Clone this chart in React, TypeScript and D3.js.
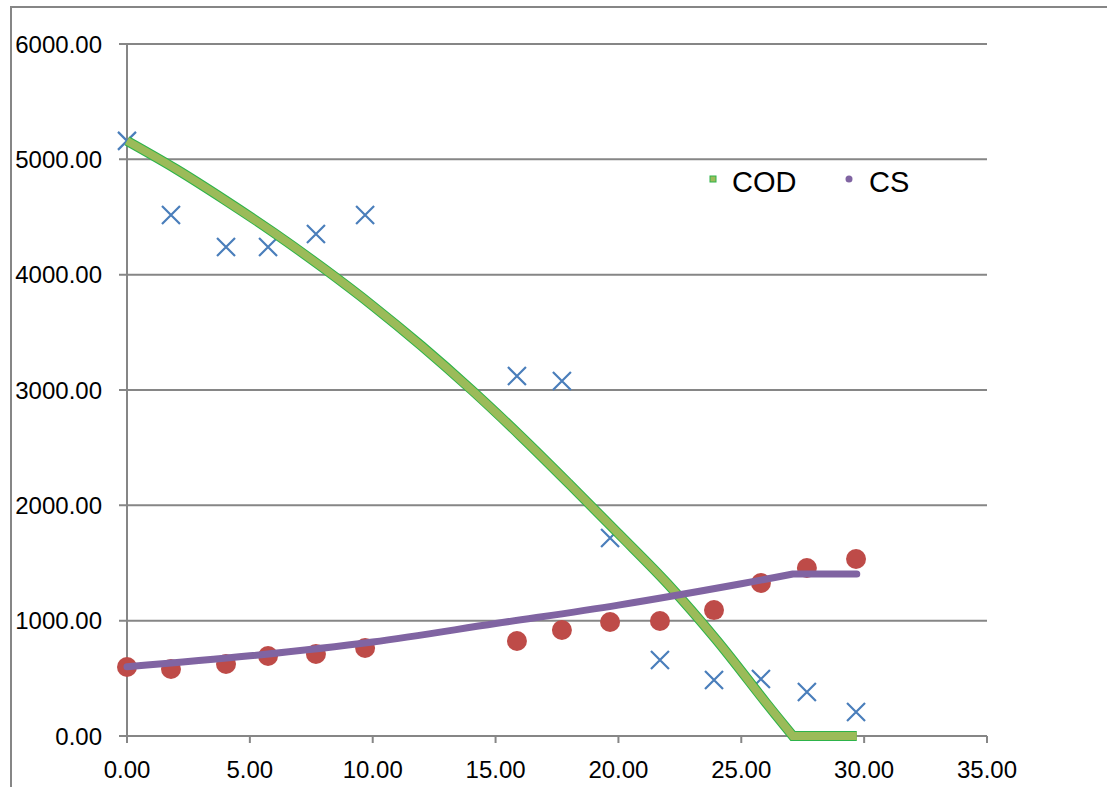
import React from "react";
import * as d3 from "d3";

const codObsX = [0, 1.79, 4.03, 5.74, 7.69, 9.69, 15.87, 17.7, 19.66, 21.69, 23.89, 25.8, 27.67, 29.67];
const codObsY = [5160, 4517, 4240, 4240, 4353, 4517, 3121, 3078, 1717, 659, 486, 494, 382, 208];
const csObsX = [0, 1.79, 4.03, 5.74, 7.69, 9.69, 15.87, 17.7, 19.66, 21.69, 23.89, 25.8, 27.67, 29.67];
const csObsY = [598, 581, 624, 694, 711, 763, 824, 919, 988, 997, 1092, 1327, 1457, 1535];

// fitted curve (declining part) then flat part
const codLineX = [0, 2, 4, 6, 8, 10, 12, 14, 16, 18, 20, 22, 24, 26, 27.1];
const codLineY = [5160, 4915, 4645, 4360, 4055, 3730, 3380, 3005, 2605, 2185, 1755, 1320, 830, 290, 0];
const codFlatX = [27.1, 29.7];
const codFlatY = [0, 0];
const csLineX = [0, 5, 10, 15, 20, 25, 27.1];
const csLineY = [600, 695, 815, 975, 1135, 1320, 1405];
const csFlatX = [27.1, 29.7];
const csFlatY = [1405, 1405];

const xTicks = [0, 5, 10, 15, 20, 25, 30, 35];
const yTicks = [0, 1000, 2000, 3000, 4000, 5000, 6000];
const legendNames = ["COD", "CS"];

export default function App() {
  const W = 1107, H = 787;
  const x = d3.scaleLinear().domain([0, 35]).range([127, 987]);
  const y = d3.scaleLinear().domain([0, 6000]).range([736, 44]);
  const grid = "#868686";
  const font = "'Liberation Sans', Arial, sans-serif";

  const pts = (xs: number[], ys: number[]): [number, number][] => xs.map((v, i) => [v, ys[i]]);
  const curveLine = d3
    .line<[number, number]>()
    .x((d) => x(d[0]))
    .y((d) => y(d[1]))
    .curve(d3.curveCatmullRom.alpha(0.5));
  const straight = d3
    .line<[number, number]>()
    .x((d) => x(d[0]))
    .y((d) => y(d[1]));

  const codD = (curveLine(pts(codLineX, codLineY)) || "") + (straight(pts(codFlatX, codFlatY)) || "").replace(/^M/, "L");
  const csD = (curveLine(pts(csLineX, csLineY)) || "") + (straight(pts(csFlatX, csFlatY)) || "").replace(/^M/, "L");

  return (
    <svg width={W} height={H} style={{ position: "absolute", left: 0, top: 0, background: "#fff" }}>
      <rect x={0} y={0} width={W} height={H} fill="#fff" />
      <path d={`M11,${H} L11,7 L${W},7`} fill="none" stroke={grid} strokeWidth={2} />
      {yTicks.map((t) => (
        <line key={"g" + t} x1={119} x2={987} y1={y(t)} y2={y(t)} stroke={grid} strokeWidth={2} />
      ))}
      <line x1={x(0)} x2={x(0)} y1={y(6000)} y2={y(0)} stroke={grid} strokeWidth={2} />
      {xTicks.map((t) => (
        <line key={"xt" + t} x1={x(t)} x2={x(t)} y1={736} y2={743} stroke={grid} strokeWidth={2} />
      ))}
      {yTicks.map((t) => (
        <text key={"yl" + t} x={102} y={y(t)} dy="0.36em" textAnchor="end" fontSize={24} fontFamily={font} fill="#000">
          {t.toFixed(2)}
        </text>
      ))}
      {xTicks.map((t) => (
        <text key={"xl" + t} x={x(t)} y={778} textAnchor="middle" fontSize={24} fontFamily={font} fill="#000">
          {t.toFixed(2)}
        </text>
      ))}
      {codObsX.map((v, i) => {
        const cx = x(v), cy = y(codObsY[i]), s = 9;
        return (
          <path
            key={"c" + i}
            d={`M${cx - s},${cy - s}L${cx + s},${cy + s}M${cx - s},${cy + s}L${cx + s},${cy - s}`}
            stroke="#4A7EBB"
            strokeWidth={2.2}
            fill="none"
          />
        );
      })}
      {csObsX.map((v, i) => (
        <circle key={"r" + i} cx={x(v)} cy={y(csObsY[i])} r={10} fill="#BE4B48" />
      ))}
      <path d={codD} fill="none" stroke="#2DB34A" strokeWidth={10} strokeLinejoin="miter" />
      <path d={codD} fill="none" stroke="#9BBB59" strokeWidth={8} strokeLinejoin="miter" />
      <path d={csD} fill="none" stroke="#8064A2" strokeWidth={7} strokeLinecap="round" strokeLinejoin="round" />
      <rect x={710} y={176} width={6} height={6} fill="#9BBB59" stroke="#2DB34A" strokeWidth={1} />
      <text x={732} y={192} fontSize={29} fontFamily={font} fill="#000">{legendNames[0]}</text>
      <circle cx={849} cy={179} r={3.5} fill="#8064A2" />
      <text x={869} y={192} fontSize={29} fontFamily={font} fill="#000">{legendNames[1]}</text>
    </svg>
  );
}
